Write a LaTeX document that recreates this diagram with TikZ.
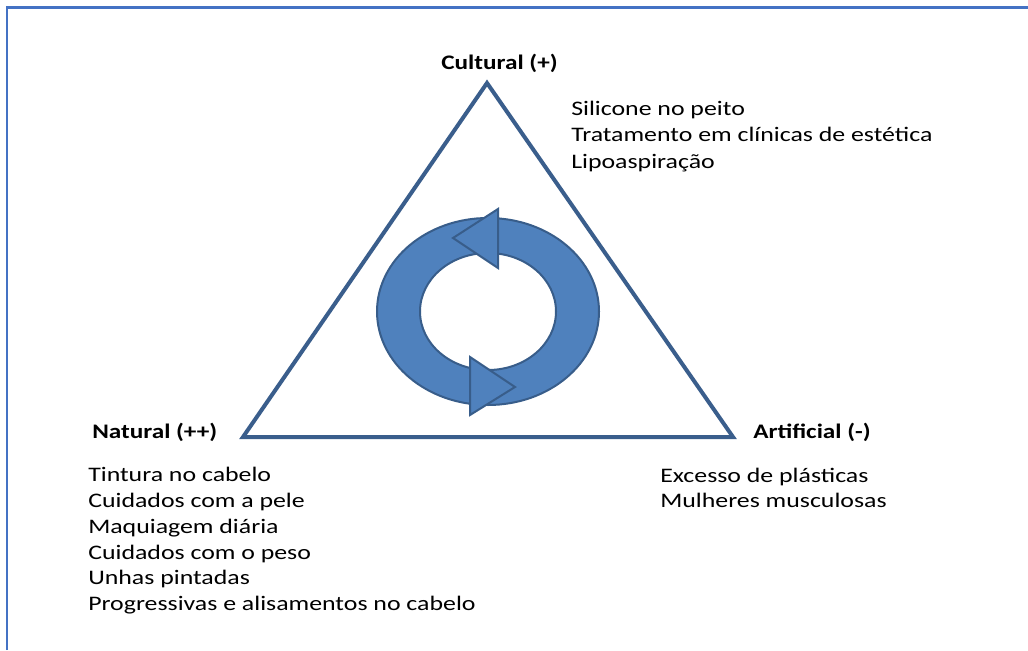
\documentclass[tikz,border=0pt]{standalone}
\usepackage{fontspec}
\setmainfont{Carlito}[FakeStretch=1.25]
\newfontfamily\lblfont{Carlito}[FakeStretch=1.22]
\definecolor{ringfill}{HTML}{4F81BD}
\definecolor{ringline}{HTML}{385D8A}
\definecolor{triline}{HTML}{3A5E8C}
\definecolor{framecol}{HTML}{4472C4}
\begin{document}
\begin{tikzpicture}[x=0.75pt,y=-0.75pt,
  txt/.style={inner sep=0pt,anchor=base west,font=\fontsize{15.5}{19}\selectfont},
  lbl/.style={inner sep=0pt,anchor=base west,font=\lblfont\fontsize{15.5}{19}\selectfont\bfseries},
  arrowpart/.style={fill=ringfill,draw=ringline,line width=1.5pt,line join=miter}]
\useasboundingbox (0,0) rectangle (1028,650);
\draw[framecol,line width=1.6pt] (7,650) -- (7,7.5) -- (1028,7.5);
\coordinate (A) at (487,83);
\coordinate (B) at (243,437);
\coordinate (C) at (733,437);
\draw[triline,line width=3pt,line join=miter] (A) -- (B) -- (C) -- cycle;
% circular arrow
\path[arrowpart,even odd rule] (488,311.5) ellipse [x radius=111,y radius=93.5]
      (488,311.5) ellipse [x radius=68,y radius=58.5];
\path[arrowpart] (453,238) -- (498,209) -- (498,268) -- cycle;
\path[arrowpart] (515,387) -- (470,357) -- (470,415) -- cycle;
% labels
\node[lbl] (cul) at (441,69) {Cultural (+)};
\node[lbl] (nat) at (92,438) {Natural (++)};
\node[lbl] (art) at (753,438) {Artificial (-)};
% top list
\node[txt] (t1) at (571,115) {Silicone no peito};
\node[txt] (t2) at (571,141.5) {Tratamento em clínicas de estética};
\node[txt] (t3) at (571,168) {Lipoaspiração};
% left list
\node[txt] (l1) at (88,481) {Tintura no cabelo};
\node[txt] (l2) at (88,507) {Cuidados com a pele};
\node[txt] (l3) at (88,533) {Maquiagem diária};
\node[txt] (l4) at (88,559) {Cuidados com o peso};
\node[txt] (l5) at (88,584.5) {Unhas pintadas};
\node[txt] (l6) at (88,610) {Progressivas e alisamentos no cabelo};
% right list
\node[txt] (r1) at (660,482) {Excesso de plásticas};
\node[txt] (r2) at (660,507.5) {Mulheres musculosas};
\end{tikzpicture}
\end{document}
